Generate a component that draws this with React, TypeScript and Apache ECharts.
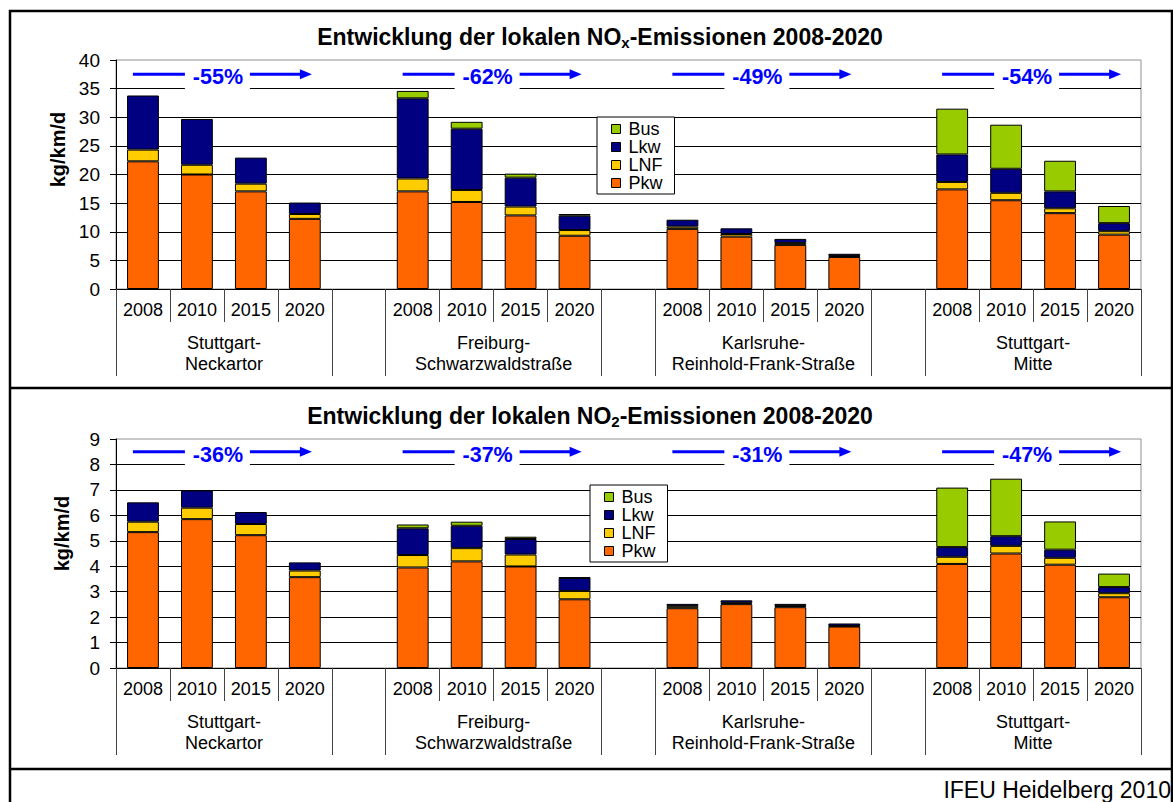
import React, { useEffect, useRef } from "react";
import * as echarts from "echarts";

const FONT = '"Liberation Sans", Arial, Helvetica, sans-serif';

// ---- data ----
const groups = [
  "Stuttgart-\nNeckartor",
  "Freiburg-\nSchwarzwaldstraße",
  "Karlsruhe-\nReinhold-Frank-Straße",
  "Stuttgart-\nMitte",
];
const years = ["2008", "2010", "2015", "2020"];
const seriesNames = ["Pkw", "LNF", "Lkw", "Bus"];
const legendOrder = ["Bus", "Lkw", "LNF", "Pkw"];
const colors: Record<string, string> = {
  Pkw: "#FF6600",
  LNF: "#FFCC00",
  Lkw: "#000080",
  Bus: "#99CC00",
};

// NOx (kg/km/d), per group x year
const noxPkw = [22.3, 20.0, 17.05, 12.25, 17.05, 15.2, 12.85, 9.3, 10.5, 9.15, 7.7, 5.6, 17.4, 15.5, 13.25, 9.5];
const noxLnf = [2.05, 1.7, 1.35, 0.85, 2.25, 2.1, 1.55, 1.0, 0.4, 0.45, 0.35, 0.15, 1.3, 1.3, 0.85, 0.6];
const noxLkw = [9.45, 8.0, 4.55, 2.0, 14.0, 10.7, 5.05, 2.5, 1.2, 1.0, 0.7, 0.4, 4.8, 4.2, 2.95, 1.4];
const noxBus = [0, 0, 0, 0, 1.3, 1.2, 0.7, 0.3, 0, 0, 0, 0, 8.0, 7.7, 5.35, 3.0];
const noxChange = ["-55%", "-62%", "-49%", "-54%"];

// NO2 (kg/km/d), per group x year
const no2Pkw = [5.34, 5.85, 5.22, 3.57, 3.95, 4.19, 3.99, 2.7, 2.35, 2.51, 2.39, 1.63, 4.09, 4.5, 4.06, 2.78];
const no2Lnf = [0.41, 0.45, 0.44, 0.26, 0.49, 0.52, 0.47, 0.33, 0.08, 0.05, 0.05, 0.02, 0.28, 0.3, 0.27, 0.16];
const no2Lkw = [0.76, 0.68, 0.47, 0.32, 1.05, 0.88, 0.61, 0.51, 0.09, 0.1, 0.08, 0.1, 0.38, 0.38, 0.32, 0.24];
const no2Bus = [0, 0, 0, 0, 0.15, 0.16, 0.09, 0.02, 0, 0, 0, 0, 2.34, 2.26, 1.11, 0.53];
const no2Change = ["-36%", "-37%", "-31%", "-47%"];

// y-axis ticks
const noxAxis = { min: 0, max: 40, interval: 5 };
const no2Axis = { min: 0, max: 9, interval: 1 };

// ---- helpers: insert a gap slot between groups ----
function toSlots(arr: number[]): (number | string)[] {
  const out: (number | string)[] = [];
  groups.forEach((_, gi) => {
    if (gi > 0) out.push("-");
    for (let k = 0; k < years.length; k++) {
      const v = arr[gi * years.length + k];
      out.push(v ? v : "-");
    }
  });
  return out;
}
const yearSlots: string[] = [];
groups.forEach((_, gi) => {
  if (gi > 0) yearSlots.push("");
  years.forEach((y) => yearSlots.push(y));
});
// boundaries (boundaryGap false): 20 points
const groupSlots: string[] = [];
for (let i = 0; i <= yearSlots.length; i++) {
  groupSlots.push(i % 5 === 2 ? groups[(i - 2) / 5] : "");
}

export default function App() {
  const ref = useRef<HTMLDivElement>(null);
  useEffect(() => {
    if (!ref.current) return;
    const chart = echarts.init(ref.current, undefined, { renderer: "svg" });

    const grids = [
      { left: 116, right: 32, top: 60, height: 229 },
      { left: 116, right: 32, top: 439, height: 229 },
    ];

    const xAxes: any[] = [];
    const yAxes: any[] = [];
    const series: any[] = [];
    const datasets = [
      { vals: { Pkw: noxPkw, LNF: noxLnf, Lkw: noxLkw, Bus: noxBus }, axis: noxAxis, namePad: 50 },
      { vals: { Pkw: no2Pkw, LNF: no2Lnf, Lkw: no2Lkw, Bus: no2Bus }, axis: no2Axis, namePad: 40 },
    ];

    datasets.forEach((ds, gi) => {
      xAxes.push({
        type: "category",
        gridIndex: gi,
        position: "bottom",
        data: yearSlots,
        axisLine: { show: true, lineStyle: { color: "#000", width: 1 } },
        axisTick: { show: true, interval: 0, length: 33, lineStyle: { color: "#444", width: 1 } },
        axisLabel: { interval: 0, margin: 12, fontSize: 18, color: "#000", fontFamily: FONT },
        splitLine: { show: false },
      });
      xAxes.push({
        type: "category",
        gridIndex: gi,
        position: "bottom",
        boundaryGap: false,
        data: groupSlots,
        axisLine: { show: false },
        axisTick: {
          show: true,
          interval: (i: number) => i % 5 === 0 || i % 5 === 4,
          length: 87,
          lineStyle: { color: "#444", width: 1 },
        },
        axisLabel: { interval: 0, margin: 43, fontSize: 18, lineHeight: 21, color: "#000", fontFamily: FONT },
        splitLine: { show: false },
      });
      yAxes.push({
        type: "value",
        gridIndex: gi,
        min: ds.axis.min,
        max: ds.axis.max,
        interval: ds.axis.interval,
        name: "kg/km/d",
        nameLocation: "middle",
        nameRotate: 90,
        nameGap: 44,
        nameTextStyle: {
          fontSize: 20,
          fontWeight: "bold",
          color: "#000",
          fontFamily: FONT,
          padding: [0, 0, 0, ds.namePad],
        },
        axisLine: { show: true, lineStyle: { color: "#000", width: 1 } },
        axisTick: { show: true, length: 6, lineStyle: { color: "#000" } },
        axisLabel: { margin: 16, fontSize: 19, color: "#000", fontFamily: FONT },
        splitLine: { show: true, showMaxLine: false, lineStyle: { color: "#000", width: 1 } },
      });
      seriesNames.forEach((n) => {
        series.push({
          type: "bar",
          name: n,
          stack: "s" + gi,
          xAxisIndex: gi * 2,
          yAxisIndex: gi,
          barWidth: "59%",
          data: toSlots((ds.vals as any)[n]),
          itemStyle: { color: colors[n], borderColor: "#000", borderWidth: 1 },
          emphasis: { disabled: true },
        });
      });
    });

    const legendBase = {
      data: legendOrder,
      orient: "vertical",
      itemWidth: 9,
      itemHeight: 9,
      itemGap: 0,
      icon: "rect",
      padding: [3, 12, 2, 14],
      backgroundColor: "#fff",
      borderColor: "#000",
      borderWidth: 1,
      borderRadius: 0,
      selectedMode: false,
      textStyle: { fontSize: 18, lineHeight: 18, color: "#000", fontFamily: FONT, padding: [0, 0, 0, 3] },
      itemStyle: { borderColor: "#000", borderWidth: 1 },
    };

    chart.setOption({
      animation: false,
      backgroundColor: "#fff",
      textStyle: { fontFamily: FONT },
      grid: grids.map((g) => ({ ...g, show: true, borderColor: "#909090", borderWidth: 1, backgroundColor: "transparent" })),
      xAxis: xAxes,
      yAxis: yAxes,
      legend: [
        { ...legendBase, left: 597, top: 117 },
        { ...legendBase, left: 590, top: 485 },
      ],
      series,
    });

    // ---- graphics: frame, titles, change annotations ----
    const gfx: any[] = [];
    gfx.push({
      type: "rect",
      z: 100,
      silent: true,
      shape: { x: 10, y: 11, width: 1162, height: 820 },
      style: { fill: "none", stroke: "#000", lineWidth: 2.5 },
    });
    [388, 769].forEach((y) =>
      gfx.push({
        type: "line",
        z: 100,
        silent: true,
        shape: { x1: 10, y1: y, x2: 1173, y2: y },
        style: { stroke: "#000", lineWidth: 2.5 },
      })
    );
    const titleRich = {
      b: { fontSize: 23, fontWeight: "bold", fontFamily: FONT, fill: "#000", color: "#000" },
      s: { fontSize: 15, fontWeight: "bold", fontFamily: FONT, fill: "#000", color: "#000", padding: [10, 0, 0, 0] },
    };
    gfx.push({
      type: "text",
      z: 100,
      silent: true,
      x: 600,
      y: 37,
      style: {
        text: "{b|Entwicklung der lokalen NO}{s|x}{b|-Emissionen 2008-2020}",
        rich: titleRich,
        align: "center",
        verticalAlign: "middle",
      },
    });
    gfx.push({
      type: "text",
      z: 100,
      silent: true,
      x: 590,
      y: 416,
      style: {
        text: "{b|Entwicklung der lokalen NO}{s|2}{b|-Emissionen 2008-2020}",
        rich: titleRich,
        align: "center",
        verticalAlign: "middle",
      },
    });
    gfx.push({
      type: "text",
      z: 100,
      silent: true,
      x: 1171,
      y: 790,
      style: {
        text: "IFEU Heidelberg 2010",
        fontSize: 23,
        fontFamily: FONT,
        fill: "#000",
        align: "right",
        verticalAlign: "middle",
      },
    });

    const annots = [
      { labels: noxChange, level: 37.5, gi: 0 },
      { labels: no2Change, level: 8.5, gi: 1 },
    ];
    annots.forEach((a) => {
      const ay = chart.convertToPixel({ yAxisIndex: a.gi } as any, a.level) as number;
      a.labels.forEach((lab, g) => {
        const x1 = chart.convertToPixel({ xAxisIndex: a.gi * 2 } as any, g * 5 + 1) as number;
        const x2 = chart.convertToPixel({ xAxisIndex: a.gi * 2 } as any, g * 5 + 2) as number;
        const cx = (x1 + x2) / 2;
        gfx.push({
          type: "rect",
          z: 100,
          silent: true,
          shape: { x: cx - 39, y: ay - 10, width: 65, height: 27 },
          style: { fill: "#fff" },
        });
        gfx.push({
          type: "line",
          z: 101,
          silent: true,
          shape: { x1: cx - 91, y1: ay, x2: cx - 39, y2: ay },
          style: { stroke: "#0000FF", lineWidth: 3 },
        });
        gfx.push({
          type: "line",
          z: 101,
          silent: true,
          shape: { x1: cx + 26, y1: ay, x2: cx + 78, y2: ay },
          style: { stroke: "#0000FF", lineWidth: 3 },
        });
        gfx.push({
          type: "polygon",
          z: 101,
          silent: true,
          shape: { points: [[cx + 88, ay], [cx + 76, ay - 5], [cx + 76, ay + 5]] },
          style: { fill: "#0000FF" },
        });
        gfx.push({
          type: "text",
          z: 102,
          silent: true,
          x: cx - 6,
          y: ay + 3,
          style: {
            text: lab,
            fontSize: 21.5,
            fontWeight: "bold",
            fontFamily: FONT,
            fill: "#0000FF",
            align: "center",
            verticalAlign: "middle",
          },
        });
      });
    });

    chart.setOption({ graphic: gfx });

    return () => chart.dispose();
  }, []);

  return (
    <div
      ref={ref}
      style={{ position: "fixed", left: 0, top: 0, width: 1173, height: 802, background: "#fff" }}
    />
  );
}
